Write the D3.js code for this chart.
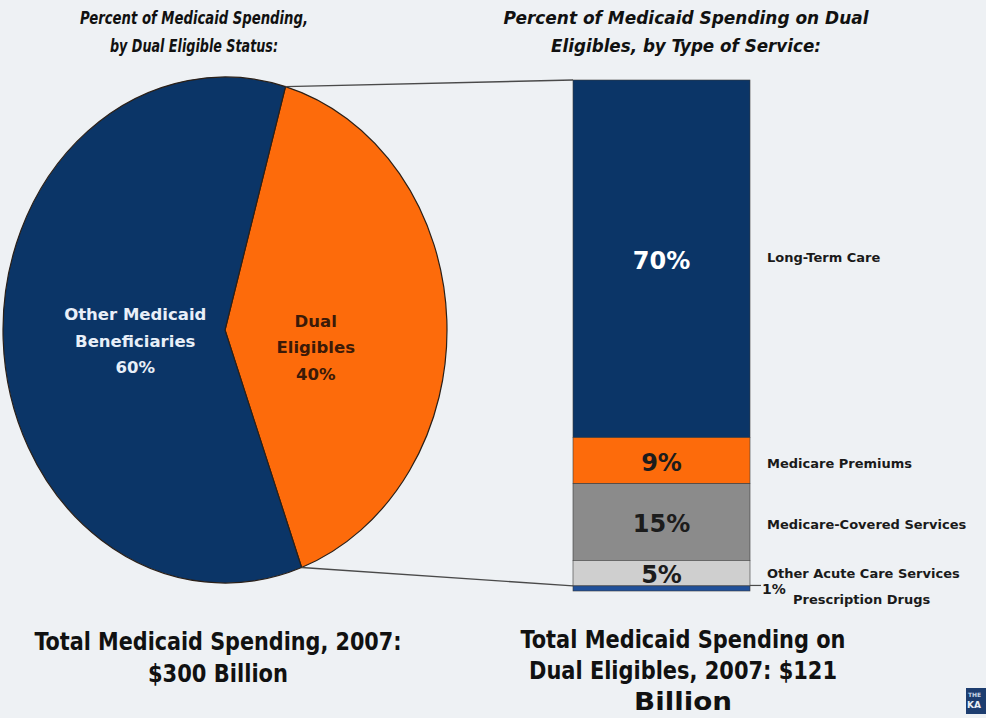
<!DOCTYPE html>
<html>
<head>
<meta charset="utf-8">
<script src="https://cdn.jsdelivr.net/npm/d3@7"></script>
<style>
  body { margin: 0; background: #eef1f4; }
  svg { display: block; }
  text { font-family: "DejaVu Sans", Verdana, sans-serif; font-weight: bold; }
</style>
</head>
<body>
<div id="chart"></div>
<script>
// Data
var pieLabels = ['Dual Eligibles', 'Other Medicaid Beneficiaries'];
var pieValues = [40, 60];
var serviceLabels = ['Long-Term Care', 'Medicare Premiums', 'Medicare-Covered Services', 'Other Acute Care Services', 'Prescription Drugs'];
var serviceValues = [70, 9, 15, 5, 1];
var titleLeft = ['Percent of Medicaid Spending,', 'by Dual Eligible Status:'];
var titleRight = ['Percent of Medicaid Spending on Dual', 'Eligibles, by Type of Service:'];
var totalLeft = ['Total Medicaid Spending, 2007:', '$300 Billion'];
var totalRight = ['Total Medicaid Spending on', 'Dual Eligibles, 2007: $121', 'Billion'];

var width = 986, height = 718;
var svg = d3.select('#chart').append('svg')
  .attr('width', width)
  .attr('height', height);

svg.append('rect').attr('width', width).attr('height', height).attr('fill', '#eef1f4');

// ---- Pie (drawn as an ellipse) ----
var cx = 225, cy = 330, rx = 222, ry = 253;
var startA = 0.276;
var pie = d3.pie().sort(null).startAngle(startA).endAngle(startA + 2 * Math.PI);
var arcs = pie(pieValues);
var arc = d3.arc().innerRadius(0).outerRadius(ry);
var pieColors = ['#fd6b0b', '#0b3567'];

var pieG = svg.append('g')
  .attr('transform', 'translate(' + cx + ',' + cy + ') scale(' + (rx / ry) + ',1)');

pieG.selectAll('path')
  .data(arcs)
  .enter()
  .append('path')
  .attr('d', arc)
  .attr('fill', function(d, i) { return pieColors[i]; })
  .attr('stroke', '#2b2018')
  .attr('stroke-width', 1.2)
  .attr('vector-effect', 'non-scaling-stroke');

// slice labels
var labelArc = d3.arc().innerRadius(ry * 0.4).outerRadius(ry * 0.4);
var pieText = [['Dual', 'Eligibles', '40%'], ['Other Medicaid', 'Beneficiaries', '60%']];
var pieTextColor = ['#3b1a08', '#e8eff8'];
var pieTextShift = [22, 8];
arcs.forEach(function(d, i) {
  var c = labelArc.centroid(d);
  var x = cx + c[0] * rx / ry + (i == 0 ? 2 : -1);
  var y = cy + c[1] + pieTextShift[i];
  var t = svg.append('text')
    .attr('text-anchor', 'middle')
    .attr('font-size', 16.5)
    .attr('fill', pieTextColor[i]);
  var lines = pieText[i];
  lines[lines.length - 1] = pieValues[i] + '%';
  lines.forEach(function(s, j) {
    t.append('tspan').attr('x', x).attr('y', y + (j - 1) * 26.5 + 5).text(s);
  });
});

// ---- Stacked bar ----
var barX0 = 573, barX1 = 750;
var y = d3.scaleLinear().domain([0, 100]).range([80, 591]);
var stack = [];
var acc = 0;
serviceValues.forEach(function(v, i) {
  stack.push({ label: serviceLabels[i], value: v, y0: acc, y1: acc + v });
  acc += v;
});
var barColors = ['#0b3567', '#fd6b0b', '#8b8b8b', '#cfcfcf', '#20509a'];
var barText = ['#ffffff', '#1c1c1c', '#1c1c1c', '#1c1c1c', '#1c1c1c'];

// connector lines from pie slice to bar
var a0 = arcs[0].startAngle, a1 = arcs[0].endAngle;
var tipTop = [cx + rx * Math.sin(a0), cy - ry * Math.cos(a0)];
var tipBot = [cx + rx * Math.sin(a1), cy - ry * Math.cos(a1)];
svg.append('line')
  .attr('x1', tipTop[0]).attr('y1', tipTop[1])
  .attr('x2', barX0).attr('y2', y(0))
  .attr('stroke', '#4a4a4a').attr('stroke-width', 1.4);
svg.append('line')
  .attr('x1', tipBot[0]).attr('y1', tipBot[1])
  .attr('x2', barX0).attr('y2', y(99))
  .attr('stroke', '#4a4a4a').attr('stroke-width', 1.4);

svg.selectAll('rect.seg')
  .data(stack)
  .enter()
  .append('rect')
  .attr('class', 'seg')
  .attr('x', barX0)
  .attr('y', function(d) { return y(d.y0); })
  .attr('width', barX1 - barX0)
  .attr('height', function(d) { return y(d.y1) - y(d.y0); })
  .attr('fill', function(d, i) { return barColors[i]; })
  .attr('stroke', '#3a3a3a')
  .attr('stroke-width', 0.6);

// percent labels inside the bar (1% sits outside)
svg.selectAll('text.pct')
  .data(stack.slice(0, 4))
  .enter()
  .append('text')
  .attr('class', 'pct')
  .attr('x', (barX0 + barX1) / 2)
  .attr('y', function(d) { return (y(d.y0) + y(d.y1)) / 2 + 10; })
  .attr('text-anchor', 'middle')
  .attr('font-size', 24)
  .attr('fill', function(d, i) { return barText[i]; })
  .text(function(d) { return d.value + '%'; });

// category labels at the right
svg.selectAll('text.cat')
  .data(stack.slice(0, 4))
  .enter()
  .append('text')
  .attr('class', 'cat')
  .attr('x', 767)
  .attr('y', function(d, i) { return (y(d.y0) + y(d.y1)) / 2 + (i == 0 ? 3 : i == 3 ? 5 : 7); })
  .attr('font-size', 13)
  .attr('fill', '#1a1a1a')
  .text(function(d) { return d.label; });

var last = stack[4];
var lastMid = (y(last.y0) + y(last.y1)) / 2;
svg.append('line')
  .attr('x1', barX1).attr('y1', lastMid - 3)
  .attr('x2', 761).attr('y2', lastMid - 3)
  .attr('stroke', '#4a4a4a').attr('stroke-width', 1.2);
svg.append('text')
  .attr('x', 762).attr('y', lastMid + 6)
  .attr('font-size', 14).attr('fill', '#1a1a1a')
  .text(last.value + '%');
svg.append('text')
  .attr('x', 793).attr('y', lastMid + 16)
  .attr('font-size', 13).attr('fill', '#1a1a1a')
  .text(last.label);

// ---- Titles ----
function lines(arr, x, y0, step, size, widths, italic) {
  arr.forEach(function(s, i) {
    svg.append('text')
      .attr('x', x).attr('y', y0 + i * step)
      .attr('text-anchor', 'middle')
      .attr('font-size', size)
      .attr('font-style', italic ? 'italic' : 'normal')
      .style('font-family', '"DejaVu Sans Condensed", "DejaVu Sans", sans-serif')
      .attr('fill', '#111')
      .attr('textLength', widths[i])
      .attr('lengthAdjust', 'spacingAndGlyphs')
      .text(s);
  });
}
lines(titleLeft, 194, 24, 28, 18, [228, 168], true);
lines(titleRight, 686, 24, 28, 18, [365, 270], true);
lines(totalLeft, 218, 650, 32, 24, [367, 140], false);
lines(totalRight, 683, 648, 31, 24, [325, 308, 98], false);

// small logo mark in the corner
svg.append('rect').attr('x', 966).attr('y', 688).attr('width', 20).attr('height', 26).attr('fill', '#1d3d6f');
svg.append('text').attr('x', 968).attr('y', 697).attr('font-size', 6).attr('fill', '#c8d4e6').text('THE');
svg.append('text').attr('x', 967).attr('y', 708).attr('font-size', 9).attr('fill', '#e8eef6').text('KA');
</script>
</body>
</html>
